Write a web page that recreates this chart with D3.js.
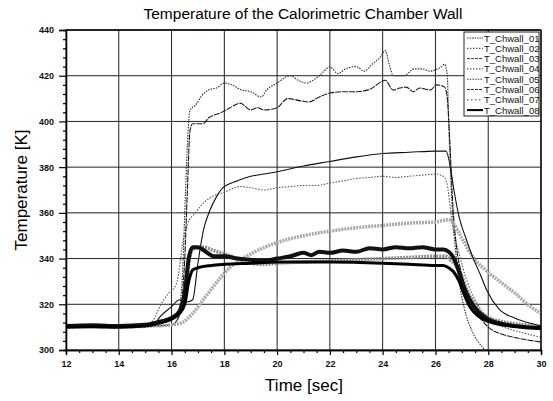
<!DOCTYPE html>
<html><head><meta charset="utf-8">
<script src="https://cdn.jsdelivr.net/npm/d3@7"></script>
<style>body{margin:0;background:#fff}svg{display:block}text{font-family:Arial,"Liberation Sans",sans-serif}</style>
</head><body>
<script>
const seriesNames = ["T_Chwall_01","T_Chwall_02","T_Chwall_03","T_Chwall_04","T_Chwall_05","T_Chwall_06","T_Chwall_07","T_Chwall_08"];
const xTicks = [12,14,16,18,20,22,24,26,28,30];
const yTicks = [300,320,340,360,380,400,420,440];

// highest plateau (~425 K)
const chwall01 = [[12,310],[13,310.2],[14,310],[15,310.3],[16,311],[16.2,313],[16.4,330],[16.5,360],[16.6,390],[16.7,405],[16.9,407],[17.2,412],[17.45,414],[17.7,414.6],[18,416.8],[18.3,416],[18.6,414],[19,413],[19.4,410.7],[19.6,413.7],[20,416.8],[20.5,420],[20.8,418],[21.1,416.8],[21.6,420],[22,423.8],[22.3,421],[22.6,423],[23,424],[23.3,422],[23.6,425],[23.9,428],[24.1,431],[24.25,425],[24.4,420],[24.8,420],[25.2,423],[25.5,423],[25.8,422],[26.2,423.8],[26.35,425],[26.45,420],[26.5,400],[26.6,370],[26.75,345],[26.9,330],[27.1,318],[27.4,308],[27.8,301],[28.2,297]];
// ~377 K plateau
const chwall02 = [[12,310.5],[13,310.3],[14,310.6],[15,310.8],[15.3,313],[15.6,320],[15.9,325],[16.1,327],[16.25,332],[16.4,345],[16.6,355],[16.9,360],[17.1,363],[17.45,366.5],[18,369],[18.6,371.5],[19,371],[19.5,370],[20,371],[20.5,371.5],[21,372],[21.5,372],[22,373],[22.5,374],[23,375],[23.5,375.5],[24,376],[24.5,375.5],[25,376],[25.5,376.5],[26,377],[26.3,376],[26.45,372],[26.65,354],[26.9,342],[27.2,330],[27.5,322],[27.9,315],[28.4,311],[29,308.5],[29.5,307],[30,305.5]];
// ~415 K plateau
const chwall03 = [[12,310],[13,310.4],[14,310.2],[15,310.5],[16,311],[16.3,315],[16.5,340],[16.6,370],[16.7,396],[16.8,399],[17.2,399],[17.4,401.5],[17.85,403.7],[18.2,405.9],[18.6,408],[19,405],[19.25,406],[19.5,405],[20,406],[20.4,410],[20.9,409],[21.2,408.5],[21.6,410.7],[22,412.4],[22.5,413],[23,413],[23.5,414],[23.9,417],[24.1,418],[24.4,413.7],[24.65,414.6],[24.9,415],[25.15,413],[25.4,414.6],[25.8,413.7],[26.05,416],[26.35,415],[26.45,410],[26.55,390],[26.65,365],[26.8,345],[27.0,333],[27.3,322],[27.7,314],[28,310],[28.5,307],[29,305.5],[30,303.5]];
// slow grey rise
const chwall04 = [[12,310],[13,310.3],[14,310],[15,310.4],[16,311],[16.4,312],[16.8,316],[17.2,322],[17.6,328],[18.2,336],[19,342],[20,347],[21,350],[22,352],[23,353.5],[24,354.5],[25,355.5],[26,356],[26.5,357],[26.7,355],[27,349],[27.4,341],[28,334],[28.55,329],[29,325],[29.6,319],[30,316]];
// grey thick (~340 K)
const chwall05 = [[12,310],[13,310.5],[14,310.2],[15,310.6],[15.6,312],[16,314],[16.3,316],[16.5,322],[16.65,338],[16.8,344],[17.2,345],[17.6,343.5],[18,342],[18.5,340],[19,338],[19.5,337.5],[20,338],[21,338.5],[22,339],[23,339.5],[24,340],[25,340.5],[26,341],[26.4,341],[26.6,339],[26.8,337],[27,332],[27.2,326],[27.5,320],[27.9,315],[28.5,312.5],[29,311.5],[30,310.5]];
// ~387 K plateau
const chwall06 = [[12,310.5],[13,310.3],[14,310.5],[15,310.8],[15.3,311],[15.6,315],[16,319],[16.3,322],[16.6,321],[16.8,322],[17,338],[17.2,352],[17.45,361],[17.7,367],[17.95,371],[18.5,374],[19,376],[19.5,377],[20,378],[21,380.5],[22,382.5],[23,384.5],[24,386],[25,386.5],[26,387],[26.4,387],[26.55,381],[26.7,370],[26.9,358],[27.15,349],[27.4,341],[27.7,333],[27.95,326],[28.4,318],[29,314],[29.5,312],[30,310.5]];
// thick black wavy (~345 K)
const chwall07 = [[12,310.5],[13,310.8],[14,310.5],[15,311],[15.6,312.5],[16,314],[16.3,317],[16.5,325],[16.65,340],[16.8,345],[17,345],[17.3,343],[17.6,341],[18,341],[18.5,340],[19,339.5],[19.5,339],[20,340],[20.5,341],[21,342.5],[21.3,341.5],[21.6,343],[22,342.5],[22.5,343.5],[23,343],[23.5,344.5],[24,344],[24.5,345],[25,344.5],[25.5,345],[26,344],[26.3,344],[26.5,343],[26.7,340],[26.9,334],[27.1,327],[27.3,322],[27.6,317],[28,313.5],[28.5,311.5],[29,310.5],[30,309.5]];
// thick black solid (~338 K)
const chwall08 = [[12,310],[13,310.2],[14,310],[15,310.5],[15.6,312],[16,313.5],[16.3,316],[16.5,320],[16.65,330],[16.8,335],[17,336],[17.5,337],[18,337.5],[19,338],[20,338.5],[22,338.5],[24,338],[25,337.5],[26,337],[26.3,337],[26.5,336],[26.7,334],[26.9,330],[27.1,324],[27.3,319],[27.6,315],[28,312.5],[28.5,311],[29,310.3],[30,309.8]];

const allSeries = [chwall01, chwall02, chwall03, chwall04, chwall05, chwall06, chwall07, chwall08];
const styles = [
  {c:"#2a2a2a", w:1.1, d:"1.5,1.2", lw:1, ld:"1.5,1"},
  {c:"#555", w:1.1, d:"1.5,1.5", lw:1, ld:"1.5,1.5"},
  {c:"#1a1a1a", w:1.1, d:"6,1", lw:1, ld:"3,1"},
  {c:"#a8a8a8", w:3.5, d:"2,1", lw:1, ld:"1.5,1.5"},
  {c:"#8c8c8c", w:3.5, d:"2,1", lw:1, ld:"1.5,1.2"},
  {c:"#111", w:1.1, d:null, lw:1, ld:"3,1"},
  {c:"#111", w:4, d:null, lw:1, ld:"1.5,2.5"},
  {c:"#000", w:3, d:null, lw:2, ld:null}
];

const W = 553, H = 401;
const m = {l:66, r:12, t:30, b:51};
const svg = d3.select("body").append("svg").attr("width", W).attr("height", H);
const x = d3.scaleLinear().domain([12,30]).range([m.l, W - m.r]);
const y = d3.scaleLinear().domain([300,440]).range([H - m.b, m.t]);

// grid
const g = svg.append("g");
g.selectAll(".vg").data(xTicks).join("line")
  .attr("x1", d=>x(d)).attr("x2", d=>x(d)).attr("y1", y(300)).attr("y2", y(440))
  .attr("stroke", "#222").attr("stroke-width", 1);
g.selectAll(".hg").data(yTicks).join("line")
  .attr("x1", x(12)).attr("x2", x(30)).attr("y1", d=>y(d)).attr("y2", d=>y(d))
  .attr("stroke", "#222").attr("stroke-width", 1);

// data
svg.append("clipPath").attr("id","clip").append("rect")
  .attr("x", x(12)).attr("y", y(440)).attr("width", x(30)-x(12)).attr("height", y(300)-y(440));
const line = d3.line().x(d=>x(d[0])).y(d=>y(d[1])).curve(d3.curveMonotoneX);
const dg = svg.append("g").attr("clip-path","url(#clip)");
allSeries.forEach((s,i)=>{
  const st = styles[i];
  dg.append("path").attr("d", line(s)).attr("fill","none")
    .attr("stroke", st.c).attr("stroke-width", st.w)
    .attr("stroke-dasharray", st.d);
});

// axes
const ax = svg.append("g").attr("transform", `translate(0,${y(300)})`)
  .call(d3.axisBottom(x).tickValues(xTicks).tickSize(5).tickPadding(6).tickFormat(d3.format("d")));
const axm = svg.append("g").attr("transform", `translate(0,${y(300)})`)
  .call(d3.axisBottom(x).tickValues(d3.range(12,30.01,0.5).filter(v=>v%2!==0)).tickSize(3).tickFormat(""));
const ay = svg.append("g").attr("transform", `translate(${x(12)},0)`)
  .call(d3.axisLeft(y).tickValues(yTicks).tickSize(7).tickPadding(5).tickFormat(d3.format("d")));
const aym = svg.append("g").attr("transform", `translate(${x(12)},0)`)
  .call(d3.axisLeft(y).tickValues(d3.range(300,440.1,4).filter(v=>v%20!==0)).tickSize(3).tickFormat(""));
[ax,axm,ay,aym].forEach(a=>{
  a.select(".domain").attr("stroke","#000").attr("stroke-width",1.3);
  a.selectAll(".tick line").attr("stroke","#000").attr("stroke-width",1.2);
  a.selectAll("text").attr("font-size", 9).attr("font-weight","bold").attr("fill","#111")
    .style("font-family","Arial, 'Liberation Sans', sans-serif");
});
// frame top/right
svg.append("line").attr("x1",x(12)).attr("x2",x(30)).attr("y1",y(440)).attr("y2",y(440)).attr("stroke","#000").attr("stroke-width",1.3);
svg.append("line").attr("x1",x(30)).attr("x2",x(30)).attr("y1",y(440)).attr("y2",y(300)).attr("stroke","#000").attr("stroke-width",1.3);

// titles
svg.append("text").attr("x", 303).attr("y", 19).attr("text-anchor","middle")
  .attr("font-size", 15.5).text("Temperature of the Calorimetric Chamber Wall");
svg.append("text").attr("x", 304).attr("y", 391).attr("text-anchor","middle")
  .attr("font-size", 17).text("Time [sec]");
svg.append("text").attr("transform", "translate(27,190) rotate(-90)").attr("text-anchor","middle")
  .attr("font-size", 17).text("Temperature [K]");

// legend
const lx = 464, ly = 32, lw = 75, lh = 84;
svg.append("clipPath").attr("id","lclip").append("rect").attr("x",lx).attr("y",ly).attr("width",lw).attr("height",lh);
svg.append("rect").attr("x",lx).attr("y",ly).attr("width",lw).attr("height",lh)
  .attr("fill","#fff").attr("stroke","#222").attr("stroke-width",1);
const lg = svg.append("g").attr("clip-path","url(#lclip)");
seriesNames.forEach((n,i)=>{
  const yy = ly + 6 + i*10.3;
  const st = styles[i];
  lg.append("line").attr("x1", lx+3).attr("x2", lx+19).attr("y1", yy).attr("y2", yy)
    .attr("stroke", i===7 ? "#000" : "#333").attr("stroke-width", st.lw).attr("stroke-dasharray", st.ld);
  lg.append("text").attr("x", lx+20).attr("y", yy+3.5).attr("font-size", 9.5).attr("fill","#111").text(n);
});
</script>
</body></html>
